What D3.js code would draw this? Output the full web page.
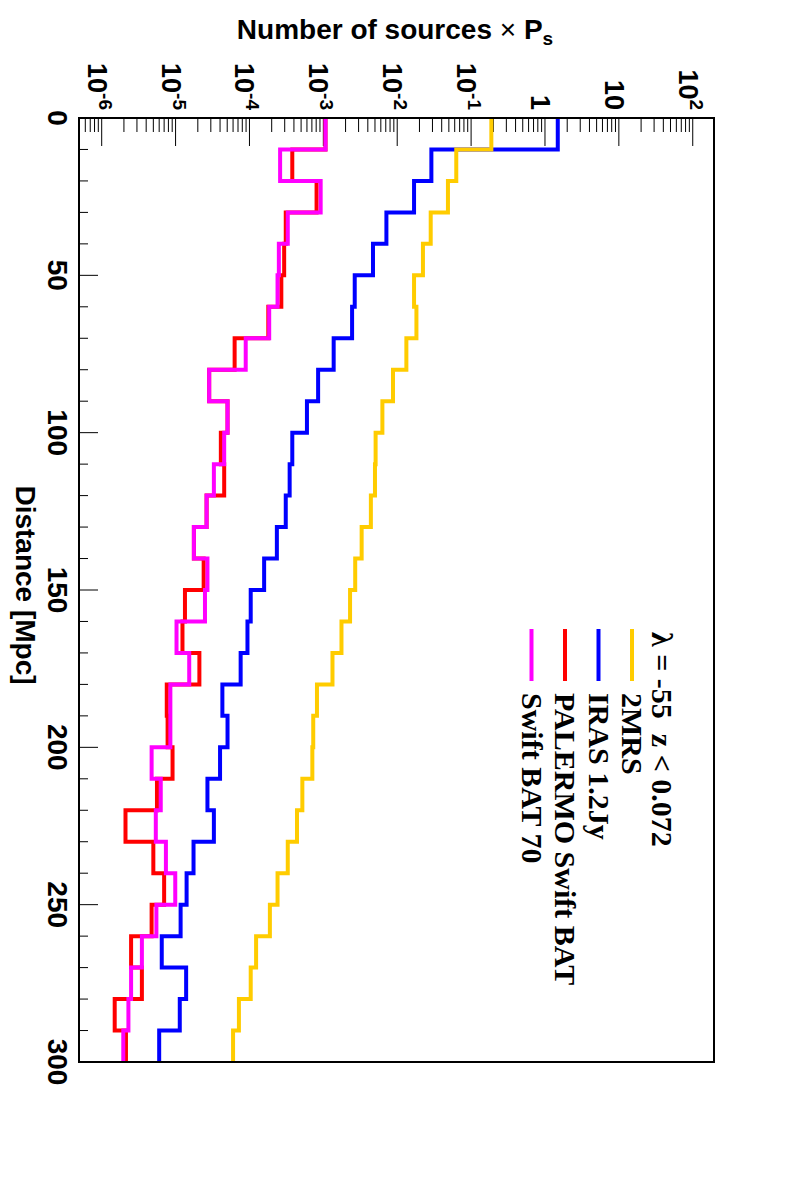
<!DOCTYPE html>
<html>
<head>
<meta charset="utf-8">
<script src="https://cdnjs.cloudflare.com/ajax/libs/d3/7.8.5/d3.min.js"></script>
<style>
  body { margin: 0; background: #fff; }
  text { font-family: "Liberation Sans", Arial, Helvetica, sans-serif; font-weight: bold; }
  .leg text { font-family: "Liberation Serif", "Times New Roman", serif; font-weight: bold; white-space: pre; }
</style>
</head>
<body>
<script>
// bins de 10 Mpc, borde inferior de cada bin
var BIN_LO = [0, 10, 20, 30, 40, 50, 60, 70, 80, 90, 100, 110, 120, 130, 140, 150, 160, 170, 180, 190, 200, 210, 220, 230, 240, 250, 260, 270, 280, 290];
var BIN_W = 10;

var TWOMRS = [0.188, 0.063, 0.0486, 0.0284, 0.0223, 0.0169, 0.0182, 0.0133, 0.00877, 0.0063, 0.0051, 0.0050, 0.0044, 0.0033, 0.0027, 0.0023, 0.00176, 0.00133, 0.00082, 0.00073, 0.00071, 0.00052, 0.00044, 0.00033, 0.00024, 0.000189, 0.000123, 0.000104, 0.000072, 0.00006];
var IRAS = [1.49, 0.029, 0.0169, 0.00714, 0.0047, 0.00266, 0.00245, 0.00138, 0.00085, 0.00060, 0.00038, 0.00035, 0.00031, 0.000235, 0.000158, 0.000104, 0.000094, 0.000076, 0.000043, 0.0000505, 0.000040, 0.000027, 0.000033, 0.0000175, 0.0000141, 0.0000117, 0.0000065, 0.0000139, 0.0000114, 0.0000060];
var PALERMO = [1.07e-3, 3.8e-4, 8.1e-4, 3.1e-4, 2.95e-4, 2.7e-4, 1.8e-4, 6.3e-5, 2.85e-5, 5.05e-5, 4.1e-5, 4.55e-5, 2.63e-5, 1.77e-5, 2.4e-5, 1.34e-5, 1.24e-5, 2.1e-5, 7.6e-6, 7.8e-6, 9.1e-6, 5.6e-6, 2.1e-6, 5.0e-6, 7.0e-6, 4.74e-6, 2.5e-6, 3.5e-6, 1.5e-6, 2.13e-6];
var SWIFT70 = [1.07e-3, 2.6e-4, 9.2e-4, 3.3e-4, 2.5e-4, 2.4e-4, 1.85e-4, 8.9e-5, 2.85e-5, 5.05e-5, 4.55e-5, 3.3e-5, 2.63e-5, 1.77e-5, 2.7e-5, 2.5e-5, 1.03e-5, 1.53e-5, 8.5e-6, 8.5e-6, 4.74e-6, 6.3e-6, 5.4e-6, 7.4e-6, 9.9e-6, 5.5e-6, 3.5e-6, 2.5e-6, 2.3e-6, 1.96e-6];

var SERIES = [
  { name: "IRAS 1.2Jy", values: IRAS, color: "#0000ff" },
  { name: "2MRS", values: TWOMRS, color: "#ffcc00" },
  { name: "PALERMO Swift BAT", values: PALERMO, color: "#ff0000" },
  { name: "Swift BAT 70", values: SWIFT70, color: "#ff00ff" }
];
var LEGEND = ["2MRS", "IRAS 1.2Jy", "PALERMO Swift BAT", "Swift BAT 70"];
var LEGEND_HEADER = "\u03bb = -55  z < 0.072";

var DIST_TICKS = [0, 50, 100, 150, 200, 250, 300];
var DECADES = [-6, -5, -4, -3, -2, -1, 0, 1, 2];

var W = 794, H = 1182;
var frame = { left: 79, right: 714, top: 118, bottom: 1062 };

var svg = d3.select("body").append("svg").attr("width", W).attr("height", H);

// el gráfico está girado 90°: distancia hacia abajo, escala log hacia la derecha
var y = d3.scaleLinear().domain([0, 300]).range([frame.top, frame.bottom]);
var x = d3.scaleLog().domain([4.93e-7, 194]).range([frame.left, frame.right]);

svg.append("clipPath").attr("id", "clip").append("rect")
  .attr("x", frame.left).attr("y", frame.top)
  .attr("width", frame.right - frame.left).attr("height", frame.bottom - frame.top);

// ticks log (arriba)
var logTicks = [];
for (var e = -7; e <= 2; e++) {
  for (var k = 1; k <= 9; k++) {
    var v = k * Math.pow(10, e);
    if (v >= x.domain()[0] && v <= x.domain()[1]) logTicks.push({ v: v, major: k === 1 });
  }
}
svg.append("g").selectAll("line").data(logTicks).enter().append("line")
  .attr("x1", function (d) { return x(d.v); }).attr("x2", function (d) { return x(d.v); })
  .attr("y1", frame.top).attr("y2", function (d) { return frame.top + (d.major ? 28 : 14); })
  .attr("stroke", "#000").attr("stroke-width", 1);

// ticks de distancia (izquierda)
var distMinor = d3.range(0, 301, 10);
svg.append("g").selectAll("line").data(distMinor).enter().append("line")
  .attr("y1", function (d) { return y(d); }).attr("y2", function (d) { return y(d); })
  .attr("x1", frame.left).attr("x2", function (d) { return frame.left + (d % 50 === 0 ? 19 : 9); })
  .attr("stroke", "#000").attr("stroke-width", 1);

// histogramas
var line = d3.line().x(function (d) { return x(d[1]); }).y(function (d) { return y(d[0]); });
svg.append("g").attr("clip-path", "url(#clip)").selectAll("path").data(SERIES).enter().append("path")
  .attr("d", function (s) {
    var pts = [];
    s.values.forEach(function (v, i) {
      pts.push([BIN_LO[i], v]);
      pts.push([BIN_LO[i] + BIN_W, v]);
    });
    return line(pts);
  })
  .attr("fill", "none").attr("stroke", function (s) { return s.color; })
  .attr("stroke-width", 4).attr("stroke-linejoin", "miter");

// marco
svg.append("rect")
  .attr("x", frame.left).attr("y", frame.top)
  .attr("width", frame.right - frame.left).attr("height", frame.bottom - frame.top)
  .attr("fill", "none").attr("stroke", "#000").attr("stroke-width", 2);

// etiquetas log, giradas
var lab = svg.append("g").selectAll("text").data(DECADES).enter().append("text")
  .attr("transform", function (d) { return "translate(" + (x(Math.pow(10, d)) - 14) + "," + 110 + ") rotate(90)"; })
  .attr("text-anchor", "end").attr("font-size", 27);
lab.each(function (d) {
  var t = d3.select(this);
  if (d === 0) { t.text("1"); return; }
  t.append("tspan").text("10");
  if (d !== 1) t.append("tspan").attr("font-size", 19).attr("dy", -11).text(d);
});

// etiquetas de distancia
svg.append("g").selectAll("text").data(DIST_TICKS).enter().append("text")
  .attr("transform", function (d) { return "translate(" + 48 + "," + y(d) + ") rotate(90)"; })
  .attr("text-anchor", "middle").attr("font-size", 28)
  .text(function (d) { return d; });

svg.append("text")
  .attr("transform", "translate(16," + 585 + ") rotate(90)")
  .attr("text-anchor", "middle").attr("font-size", 28)
  .text("Distance [Mpc]");

var title = svg.append("text").attr("x", 395).attr("y", 39).attr("text-anchor", "middle").attr("font-size", 28);
title.append("tspan").text("Number of sources ");
title.append("tspan").attr("font-weight", "normal").text("\u00d7");
title.append("tspan").text(" P");
title.append("tspan").attr("font-size", 19).attr("dy", 6).text("s");

// leyenda
var leg = svg.append("g").attr("class", "leg");
leg.append("text")
  .attr("transform", "translate(652,632) rotate(90)")
  .attr("font-size", 30).text(LEGEND_HEADER);
var colorOf = {};
SERIES.forEach(function (s) { colorOf[s.name] = s.color; });
var entry = leg.selectAll("g.entry").data(LEGEND).enter().append("g").attr("class", "entry")
  .attr("transform", function (d, i) { return "translate(" + (632 - i * 33.5) + ",0)"; });
entry.append("line").attr("x1", 0).attr("x2", 0).attr("y1", 629).attr("y2", 681)
  .attr("stroke", function (d) { return colorOf[d]; }).attr("stroke-width", 4);
entry.append("text")
  .attr("transform", "translate(-10,693) rotate(90)")
  .attr("font-size", 30).text(function (d) { return d; });
</script>
</body>
</html>
